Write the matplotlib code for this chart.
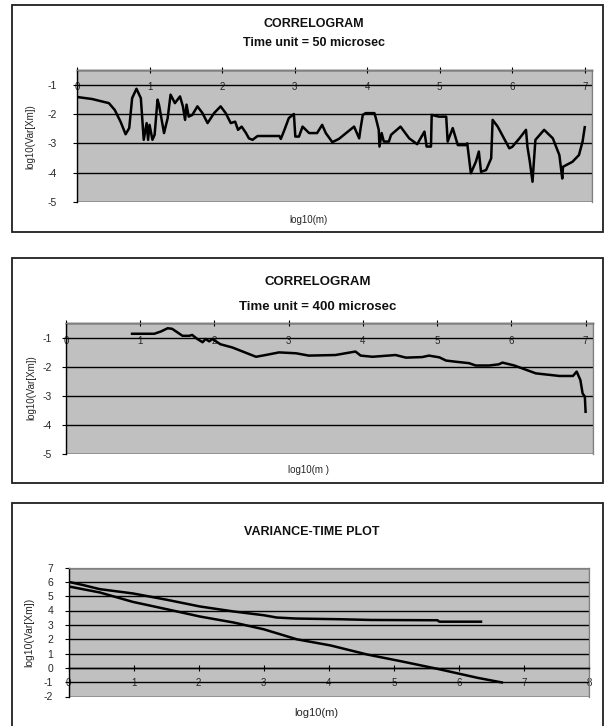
import matplotlib
matplotlib.use("Agg")
import matplotlib.pyplot as plt
from matplotlib.patches import Rectangle

plt.rcParams['font.family'] = ['Liberation Sans', 'DejaVu Sans']

# ---------------- data ----------------
p1_x = [0.0, 0.21, 0.44, 0.52, 0.60, 0.67, 0.72, 0.76, 0.82, 0.88,
        0.92, 0.96, 0.98, 1.00, 1.04, 1.07, 1.11, 1.13, 1.20, 1.25,
        1.29, 1.35, 1.42, 1.46, 1.49, 1.51, 1.54, 1.59, 1.66, 1.73,
        1.80, 1.89, 1.98, 2.05, 2.12, 2.18, 2.22, 2.27, 2.33, 2.37,
        2.42, 2.49, 2.79, 2.81, 2.86, 2.92, 2.99, 3.01, 3.06, 3.11,
        3.20, 3.31, 3.38, 3.43, 3.52, 3.61, 3.71, 3.82, 3.89, 3.91,
        3.94, 3.98, 4.10, 4.12, 4.16, 4.17, 4.20, 4.23, 4.30, 4.33,
        4.46, 4.58, 4.69, 4.79, 4.82, 4.88, 4.89, 4.99, 5.09, 5.11,
        5.18, 5.25, 5.36, 5.38, 5.43, 5.50, 5.54, 5.57, 5.64, 5.71,
        5.73, 5.80, 5.96, 6.00, 6.10, 6.19, 6.21, 6.24, 6.28, 6.30,
        6.32, 6.44, 6.56, 6.65, 6.69, 6.70, 6.83, 6.92, 6.97, 7.00]
p1_y = [-1.42, -1.49, -1.63, -1.86, -2.26, -2.69, -2.48, -1.46, -1.14, -1.46,
        -2.88, -2.31, -2.88, -2.37, -2.88, -2.71, -1.51, -1.68, -2.65, -2.14,
        -1.34, -1.63, -1.40, -1.74, -2.20, -1.68, -2.09, -2.03, -1.74, -1.97,
        -2.31, -1.97, -1.74, -1.97, -2.31, -2.26, -2.54, -2.43, -2.65, -2.83,
        -2.88, -2.75, -2.75, -2.85, -2.54, -2.14, -2.00, -2.77, -2.77, -2.43,
        -2.65, -2.65, -2.37, -2.65, -2.96, -2.85, -2.65, -2.43, -2.83, -2.48,
        -2.03, -1.97, -1.97, -2.14, -2.54, -3.11, -2.65, -2.94, -2.94, -2.71,
        -2.43, -2.83, -3.03, -2.60, -3.11, -3.11, -2.03, -2.09, -2.09, -2.94,
        -2.48, -3.06, -3.06, -3.00, -4.02, -3.62, -3.28, -3.97, -3.91, -3.51,
        -2.20, -2.43, -3.17, -3.12, -2.83, -2.54, -3.12, -3.58, -4.31, -3.58,
        -2.88, -2.54, -2.83, -3.40, -4.20, -3.80, -3.63, -3.40, -2.94, -2.45]

p2_x = [0.89, 1.19, 1.28, 1.37, 1.43, 1.57, 1.66, 1.70, 1.77, 1.84,
        1.88, 1.93, 1.97, 2.02, 2.08, 2.24, 2.38, 2.56, 2.69, 2.87,
        3.10, 3.27, 3.63, 3.90, 3.97, 4.13, 4.44, 4.58, 4.80, 4.89,
        5.03, 5.12, 5.25, 5.43, 5.52, 5.70, 5.83, 5.88, 6.04, 6.33,
        6.65, 6.83, 6.88, 6.93, 6.96, 6.99, 7.00]
p2_y = [-0.87, -0.87, -0.79, -0.68, -0.70, -0.94, -0.94, -0.91, -1.05, -1.16,
        -1.05, -1.13, -1.05, -1.13, -1.23, -1.34, -1.48, -1.66, -1.60, -1.51,
        -1.54, -1.62, -1.60, -1.48, -1.62, -1.66, -1.60, -1.69, -1.67, -1.62,
        -1.68, -1.79, -1.83, -1.88, -1.96, -1.96, -1.92, -1.86, -1.96, -2.23,
        -2.32, -2.32, -2.17, -2.46, -2.92, -3.03, -3.55]

vt_upper_x = [0.0, 0.22, 0.48, 0.99, 1.51, 2.02, 2.54, 3.0, 3.2, 3.49, 4.18, 4.65, 5.67, 5.70, 6.34]
vt_upper_y = [6.0, 5.78, 5.49, 5.19, 4.75, 4.28, 3.93, 3.67, 3.51, 3.44, 3.39, 3.34, 3.32, 3.22, 3.22]
vt_lower_x = [0.0, 0.48, 0.99, 1.51, 2.02, 2.54, 3.0, 3.51, 4.03, 4.59, 5.11, 5.67, 6.29, 6.66]
vt_lower_y = [5.68, 5.26, 4.60, 4.09, 3.58, 3.16, 2.69, 1.99, 1.56, 0.93, 0.46, -0.07, -0.70, -1.02]

corr_xticks = [0, 1, 2, 3, 4, 5, 6, 7]
corr_yticks = [-5, -4, -3, -2, -1]
vt_xticks = [0, 1, 2, 3, 4, 5, 6, 7, 8]
vt_yticks = [-2, -1, 0, 1, 2, 3, 4, 5, 6, 7]

titles1 = ["CORRELOGRAM", "Time unit = 50 microsec"]
titles2 = ["CORRELOGRAM", "Time unit = 400 microsec"]
title3 = "VARIANCE-TIME PLOT"
ylab = "log10(Var[Xm])"
xlab = "log10(m)"

# ---------------- layout ----------------
W, H = 610, 726
fig = plt.figure(figsize=(W / 100, H / 100), dpi=100)
fig.patch.set_facecolor('white')


def fx(px):
    return px / W


def fy(py):
    return 1 - py / H


def box(left, top, right, bottom):
    fig.add_artist(Rectangle((fx(left), fy(bottom)), fx(right - left), (bottom - top) / H,
                             transform=fig.transFigure, fill=False, ec='#202020', lw=1.3))


def make_axes(left, top, right, bottom):
    return fig.add_axes([fx(left), fy(bottom), fx(right - left), (bottom - top) / H])


TXT = '#262626'


def style(ax, xlim, ylim, xticks, yticks, xaxis_at, xpad, ypad):
    ax.set_facecolor('#c0c0c0')
    ax.set_xlim(*xlim)
    ax.set_ylim(*ylim)
    ax.set_axisbelow(True)
    ax.yaxis.grid(True, color='black', lw=1.0)
    ax.xaxis.grid(False)
    for s in ['top', 'right']:
        ax.spines[s].set_color('#808080')
        ax.spines[s].set_linewidth(0.9)
    ax.spines['left'].set_color('black')
    ax.spines['left'].set_linewidth(1.0)
    ax.spines['bottom'].set_position(('data', xaxis_at))
    ax.spines['bottom'].set_color('black')
    ax.spines['bottom'].set_linewidth(1.0)
    # bottom frame of plot area
    ax.add_patch(Rectangle((0, 0), 1, 1, transform=ax.transAxes, fill=False,
                           ec='#808080', lw=0.9, zorder=0.5))
    ax.set_xticks(xticks)
    ax.set_xticklabels([str(t) for t in xticks])
    ax.set_yticks(yticks)
    ax.set_yticklabels([str(t) for t in yticks])
    ax.tick_params(axis='x', direction='inout', length=5, width=0.8, pad=xpad,
                   labelsize=7, labelcolor=TXT, color='black')
    ax.tick_params(axis='y', direction='out', length=3, width=0.8, pad=ypad,
                   labelsize=7.5, labelcolor=TXT, color='black')


# ---- panel 1 ----
box(12, 5, 603, 232)
ax1 = make_axes(77, 70, 592, 202)
style(ax1, (0, 7.1), (-5, -0.5), corr_xticks, corr_yticks, -0.5, 6.5, 11.5)
ax1.plot(p1_x, p1_y, color='black', lw=1.8, solid_joinstyle='round')
fig.text(fx(314), fy(24), titles1[0], ha='center', va='center', fontsize=9, fontweight='bold', color='#111')
fig.text(fx(314), fy(43), titles1[1], ha='center', va='center', fontsize=9, fontweight='bold', color='#111')
fig.text(fx(308), fy(220), xlab, ha='center', va='center', fontsize=7, color=TXT)
fig.text(fx(30), fy(137), ylab, ha='center', va='center', rotation=90, fontsize=7, color=TXT)

# ---- panel 2 ----
box(12, 258, 603, 483)
ax2 = make_axes(66, 323, 593, 454)
style(ax2, (0, 7.1), (-5, -0.5), corr_xticks, corr_yticks, -0.5, 6.5, 7.5)
ax2.plot(p2_x, p2_y, color='black', lw=1.8, solid_joinstyle='round')
fig.text(fx(318), fy(282), titles2[0], ha='center', va='center', fontsize=9.5, fontweight='bold', color='#111')
fig.text(fx(318), fy(307), titles2[1], ha='center', va='center', fontsize=9.5, fontweight='bold', color='#111')
fig.text(fx(308), fy(470), "log10(m )", ha='center', va='center', fontsize=7, color=TXT)
fig.text(fx(31), fy(388), ylab, ha='center', va='center', rotation=90, fontsize=7, color=TXT)

# ---- panel 3 ----
box(12, 503, 603, 740)
ax3 = make_axes(68.5, 567.5, 589, 696.5)
style(ax3, (0, 8), (-2, 7), vt_xticks, vt_yticks, 0, 5.0, 8)
ax3.plot(vt_upper_x, vt_upper_y, color='black', lw=1.8)
ax3.plot(vt_lower_x, vt_lower_y, color='black', lw=1.8)
fig.text(fx(312), fy(532), title3, ha='center', va='center', fontsize=9, fontweight='bold', color='#111')
fig.text(fx(316), fy(713), xlab, ha='center', va='center', fontsize=8, color=TXT)
fig.text(fx(29), fy(632), ylab, ha='center', va='center', rotation=90, fontsize=7.5, color=TXT)

fig.savefig("out.png", dpi=100)
